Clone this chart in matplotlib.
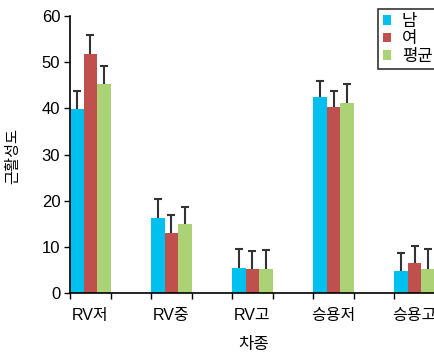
import numpy as np
import matplotlib
matplotlib.use('Agg')
import matplotlib.pyplot as plt
from matplotlib.ticker import FixedLocator

plt.rcParams['font.family'] = ['Liberation Sans', 'Noto Sans CJK KR', 'DejaVu Sans']

# ── Data ──────────────────────────────────────────────────────────────────────
categories = ["RV저", "RV중", "RV고", "승용저", "승용고"]
series_names = ["남", "여", "평균"]
male = [39.8, 16.2, 5.4, 42.4, 4.8]
female = [51.7, 13.0, 5.2, 40.3, 6.5]
mean = [45.3, 14.9, 5.2, 41.1, 5.3]
male_err = [3.9, 4.1, 4.2, 3.6, 3.8]
female_err = [4.1, 4.0, 4.0, 3.5, 3.7]
mean_err = [3.8, 3.8, 4.2, 4.1, 4.2]

colors = ['#00C0F0', '#C0504D', '#ACD276']

# ── Figure ────────────────────────────────────────────────────────────────────
W, H = 434, 356
fig = plt.figure(figsize=(W / 100, H / 100), dpi=100)
ax = fig.add_axes([70 / W, 63 / H, 405.5 / W, 277 / H])

x = np.arange(len(categories))
bw = 1 / 6
values = [male, female, mean]
errs = [male_err, female_err, mean_err]
for k, (vals, err, col, name) in enumerate(zip(values, errs, colors, series_names)):
    pos = x + (k - 1) * bw
    vals = np.array(vals)
    tops = vals + np.array(err)
    ax.bar(pos, vals, width=bw, color=col, label=name, zorder=2)
    # upper error bar only, cap on top
    ax.vlines(pos, vals, tops, color='#333333', lw=1.5, zorder=3)
    ax.plot(pos, tops, ls='none', marker='_', ms=6, mew=1.5, color='#333333', zorder=3)

ax.set_xlim(-0.25, 4.75)
ax.set_ylim(0, 60)
ax.set_yticks(range(0, 61, 10))

ax.set_xticks(x)
ax.set_xticklabels(categories, fontsize=11.5)
ax.tick_params(axis='x', which='major', length=0, pad=11)
ax.xaxis.set_minor_locator(FixedLocator(np.arange(-0.25, 4.8, 0.5)))
ax.tick_params(axis='x', which='minor', length=4, width=1, direction='out')
ax.tick_params(axis='y', length=4, width=1, direction='out', pad=3, labelsize=12)

for s in ['top', 'right']:
    ax.spines[s].set_visible(False)
for s in ['left', 'bottom']:
    ax.spines[s].set_linewidth(1.2)

fig.text(13.5 / W, 1 - 156 / H, "근활성도", rotation=90, ha='center', va='center', fontsize=11)
fig.text(254 / W, 1 - 345 / H, "차종", ha='center', va='center', fontsize=12)

leg = fig.legend(loc='upper left', bbox_to_anchor=(378 / W, 1 - 9 / H),
                 fontsize=12, frameon=True, fancybox=False, edgecolor='black',
                 handlelength=0.48, handleheight=0.48, handletextpad=0.65,
                 borderpad=0.3, labelspacing=0.15, borderaxespad=0)
leg.get_frame().set_linewidth(1.2)

fig.savefig('out.png', dpi=100)
